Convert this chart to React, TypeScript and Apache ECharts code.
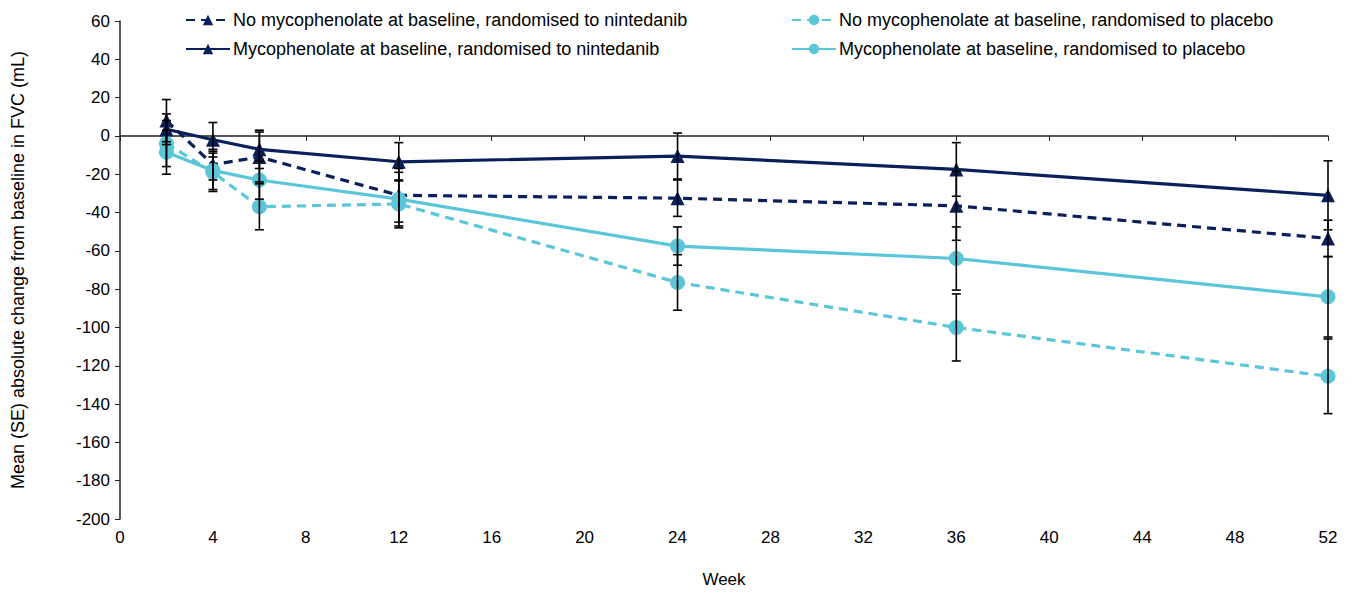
import React, { useEffect, useRef } from "react";
import * as echarts from "echarts";

const weeks = [2, 4, 6, 12, 24, 36, 52];

const noMycoNintName = "No mycophenolate at baseline, randomised to nintedanib";
const noMycoPlaName = "No mycophenolate at baseline, randomised to placebo";
const mycoNintName = "Mycophenolate at baseline, randomised to nintedanib";
const mycoPlaName = "Mycophenolate at baseline, randomised to placebo";

const noMycoNintMean = [8, -15, -11, -31, -32.5, -36.5, -53.5];
const noMycoNintSE = [11, 8, 13, 14, 9.5, 18, 9.5];
const noMycoPlaMean = [-4, -19, -37, -35.5, -76.5, -100, -125.5];
const noMycoPlaSE = [12, 10, 12, 12.5, 14.5, 17.5, 19.5];
const mycoNintMean = [3.5, -2, -7, -13.5, -10.5, -17.5, -31];
const mycoNintSE = [8, 9, 10, 10, 12, 14, 18];
const mycoPlaMean = [-8.5, -18, -23, -33, -57.5, -64, -84];
const mycoPlaSE = [11.5, 10, 10, 14, 10, 16.5, 21];

const yTicks = { min: -200, max: 60, interval: 20 };
const xTicks = { min: 0, max: 52, interval: 4 };

const DARK = "#0b1f5b";
const LIGHT = "#5bc6d9";
const FONT = "Liberation Sans, Arial, sans-serif";

function pairs(mean: number[]) {
  return weeks.map((w, i) => [w, mean[i]]);
}
function errData(mean: number[], se: number[]) {
  return weeks.map((w, i) => [w, mean[i] - se[i], mean[i] + se[i]]);
}

function errorSeries(mean: number[], se: number[]) {
  return {
    type: "custom",
    silent: true,
    z: 5,
    data: errData(mean, se),
    encode: { x: 0, y: [1, 2] },
    renderItem: (params: any, api: any) => {
      const x = api.value(0);
      const lo = api.coord([x, api.value(1)]);
      const hi = api.coord([x, api.value(2)]);
      const cap = 4.5;
      const style = { stroke: "#000", lineWidth: 1.6 };
      return {
        type: "group",
        children: [
          { type: "line", shape: { x1: lo[0], y1: lo[1], x2: hi[0], y2: hi[1] }, style },
          { type: "line", shape: { x1: lo[0] - cap, y1: lo[1], x2: lo[0] + cap, y2: lo[1] }, style },
          { type: "line", shape: { x1: hi[0] - cap, y1: hi[1], x2: hi[0] + cap, y2: hi[1] }, style },
        ],
      };
    },
  };
}

function lineSeries(name: string, mean: number[], color: string, dashed: boolean, symbol: string, size: number) {
  return {
    name,
    type: "line",
    data: pairs(mean),
    symbol,
    symbolSize: size,
    z: 3,
    lineStyle: { color, width: 3.2, type: dashed ? [9, 6] : "solid" },
    itemStyle: { color },
  };
}

export default function App() {
  const ref = useRef<HTMLDivElement>(null);
  useEffect(() => {
    if (!ref.current) return;
    const chart = echarts.init(ref.current, undefined, { renderer: "svg" });
    const legendCommon = {
      orient: "vertical",
      top: 6,
      itemWidth: 44,
      itemHeight: 13,
      itemGap: 11,
      selectedMode: false,
      textStyle: { fontSize: 18, fontFamily: FONT, color: "#000", padding: [0, 0, 0, -2] },
    };
    chart.setOption({
      animation: false,
      textStyle: { fontFamily: FONT },
      legend: [
        { ...legendCommon, left: 180, data: [noMycoNintName, mycoNintName] },
        { ...legendCommon, left: 786, data: [noMycoPlaName, mycoPlaName] },
      ],
      grid: { left: 120, right: 30, top: 21, bottom: 75, containLabel: false },
      xAxis: {
        type: "value",
        min: xTicks.min,
        max: xTicks.max,
        interval: xTicks.interval,
        name: "Week",
        nameLocation: "middle",
        nameGap: 52,
        nameTextStyle: { fontSize: 17, color: "#000", fontFamily: FONT },
        axisLine: { lineStyle: { color: "#222", width: 1.5 } },
        axisTick: { show: true, length: 5, lineStyle: { color: "#222" } },
        axisLabel: { fontSize: 17, color: "#000", margin: 10, fontFamily: FONT },
        splitLine: { show: false },
      },
      yAxis: {
        type: "value",
        min: yTicks.min,
        max: yTicks.max,
        interval: yTicks.interval,
        name: "Mean (SE) absolute change from baseline in FVC (mL)",
        nameLocation: "middle",
        nameGap: 93,
        nameTextStyle: { fontSize: 18, color: "#000", fontFamily: FONT },
        axisLine: { show: true, lineStyle: { color: "#222", width: 1.5 } },
        axisTick: { show: true, length: 5, lineStyle: { color: "#222" } },
        axisLabel: { fontSize: 17, color: "#000", margin: 10, fontFamily: FONT },
        splitLine: { show: false },
      },
      series: [
        lineSeries(noMycoNintName, noMycoNintMean, DARK, true, "triangle", 14),
        lineSeries(noMycoPlaName, noMycoPlaMean, LIGHT, true, "circle", 15),
        lineSeries(mycoNintName, mycoNintMean, DARK, false, "triangle", 14),
        lineSeries(mycoPlaName, mycoPlaMean, LIGHT, false, "circle", 15),
        errorSeries(noMycoNintMean, noMycoNintSE),
        errorSeries(noMycoPlaMean, noMycoPlaSE),
        errorSeries(mycoNintMean, mycoNintSE),
        errorSeries(mycoPlaMean, mycoPlaSE),
      ],
    });
    return () => chart.dispose();
  }, []);
  return (
    <div
      ref={ref}
      style={{ position: "fixed", left: 0, top: 0, width: 1358, height: 594, background: "#fff" }}
    />
  );
}
